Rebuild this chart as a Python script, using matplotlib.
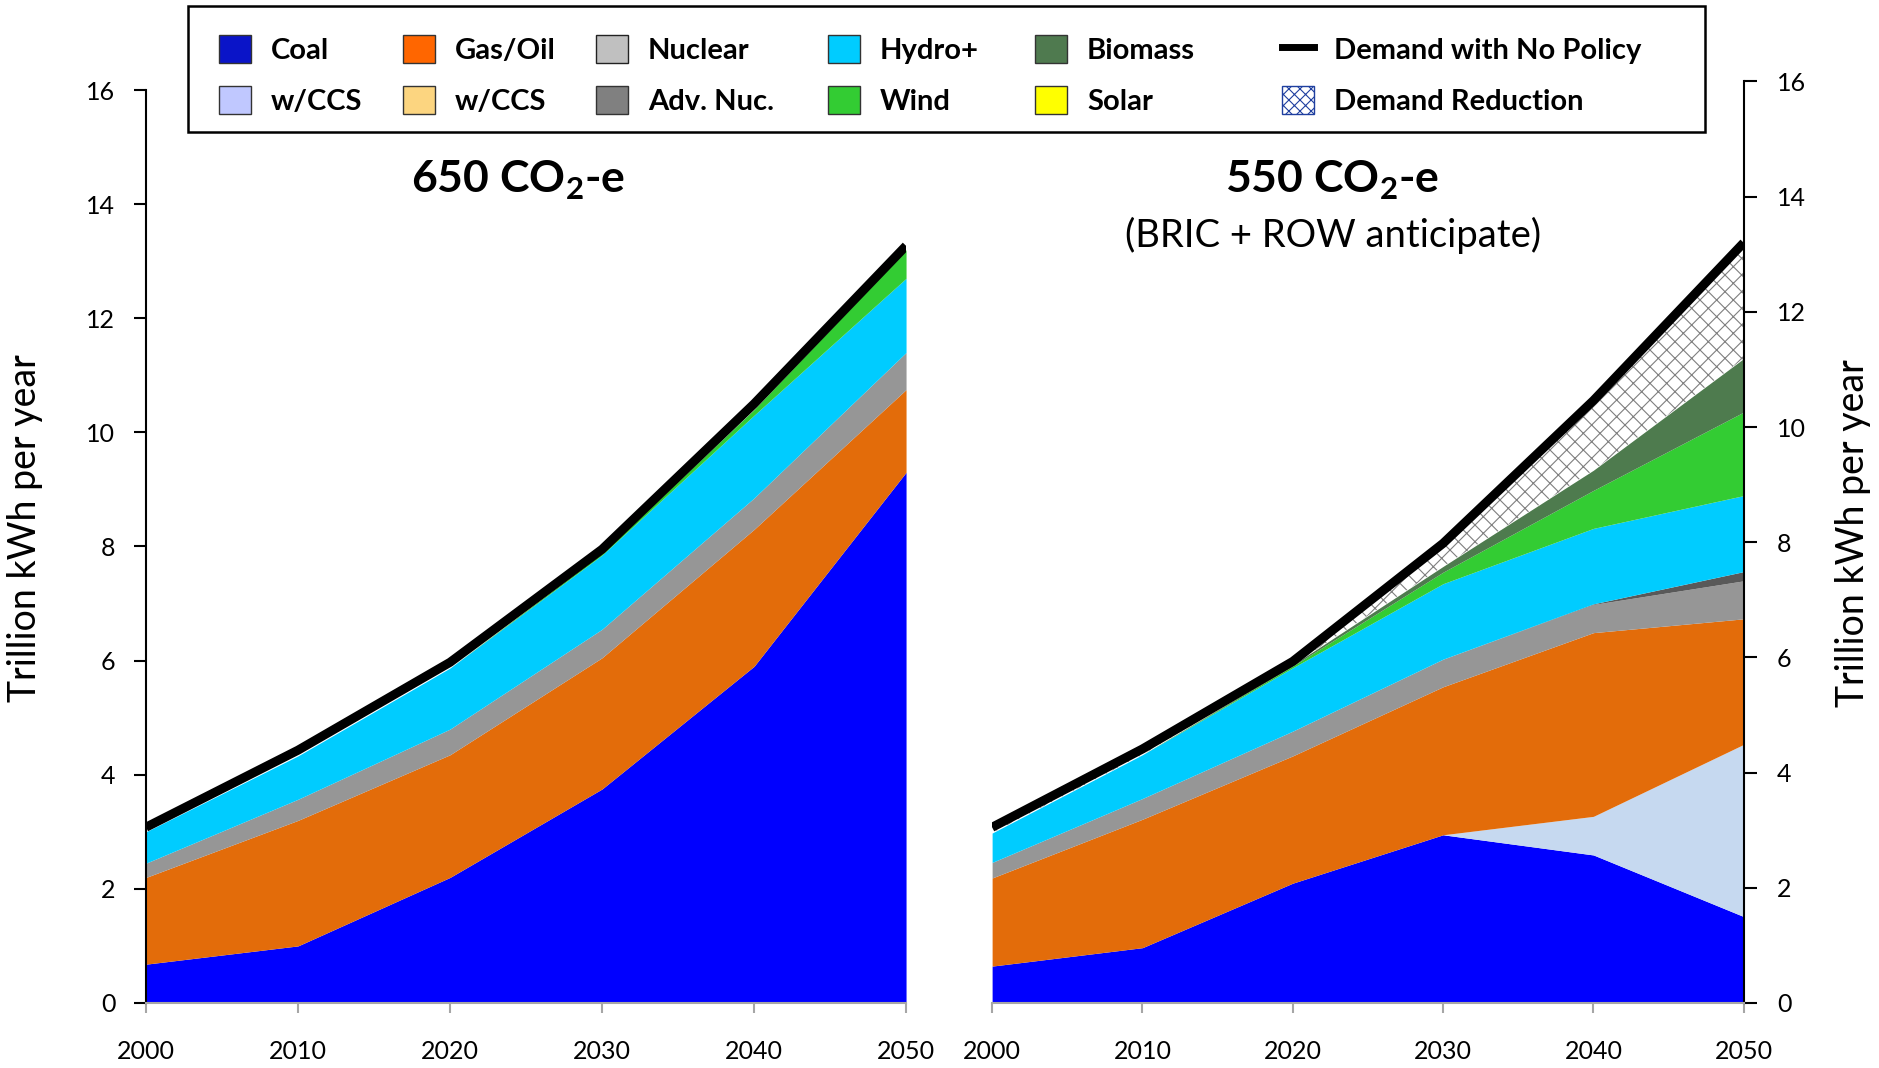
import numpy as np
import matplotlib
matplotlib.use("Agg")
import matplotlib.pyplot as plt
from matplotlib.patches import Patch, Rectangle
from matplotlib.lines import Line2D

plt.rcParams['font.family'] = ['Lato', 'DejaVu Sans']
plt.rcParams['mathtext.fontset'] = 'custom'
plt.rcParams['mathtext.rm'] = 'Lato'
plt.rcParams['mathtext.bf'] = 'Lato:bold'
plt.rcParams['hatch.linewidth'] = 0.8

years = [2000, 2010, 2020, 2030, 2040, 2050]

# 650 CO2-e scenario (trillion kWh per year)
coal_650 = [0.68, 1.0, 2.2, 3.75, 5.9, 9.3]
gas_650 = [1.52, 2.2, 2.15, 2.3, 2.4, 1.45]
nuclear_650 = [0.25, 0.37, 0.45, 0.5, 0.55, 0.65]
hydro_650 = [0.55, 0.76, 1.07, 1.3, 1.45, 1.3]
wind_650 = [0.0, 0.0, 0.0, 0.03, 0.1, 0.5]
demand_650 = [3.08, 4.43, 5.97, 7.95, 10.5, 13.27]

# 550 CO2-e scenario (BRIC + ROW anticipate)
coal_550 = [0.64, 0.96, 2.08, 2.92, 2.57, 1.5]
coal_ccs_550 = [0.0, 0.0, 0.0, 0.0, 0.67, 2.99]
gas_550 = [1.53, 2.23, 2.21, 2.57, 3.19, 2.18]
nuclear_550 = [0.27, 0.36, 0.43, 0.48, 0.49, 0.66]
adv_nuc_550 = [0.0, 0.0, 0.0, 0.0, 0.01, 0.16]
hydro_550 = [0.51, 0.76, 1.1, 1.31, 1.31, 1.32]
wind_550 = [0.0, 0.0, 0.03, 0.2, 0.66, 1.45]
biomass_550 = [0.0, 0.0, 0.02, 0.1, 0.35, 0.93]
demand_550 = [3.05, 4.41, 5.93, 7.98, 10.46, 13.2]

c_coal = '#0000ff'
c_coal_ccs = '#c6d9f0'
c_gas = '#e36c0a'
c_nuc = '#969696'
c_adv = '#595959'
c_hydro = '#00ccff'
c_wind = '#33cc33'
c_bio = '#4e7b4e'


def draw_stack(ax, layers, colors):
    bottom = np.zeros(len(years))
    for vals, col in zip(layers, colors):
        top = bottom + np.array(vals)
        ax.fill_between(years, bottom, top, color=col, lw=0)
        bottom = top
    return bottom


def style_axis(ax, side):
    ax.set_xlim(2000, 2050)
    ax.set_ylim(0, 16)
    ax.set_xticks(years)
    ax.set_yticks(range(0, 17, 2))
    ax.spines['top'].set_visible(False)
    other = 'right' if side == 'left' else 'left'
    ax.spines[other].set_visible(False)
    ax.spines[side].set_linewidth(1.5)
    ax.spines[side].set_color('black')
    ax.spines['bottom'].set_color('#a6a6a6')
    ax.spines['bottom'].set_linewidth(1.5)
    ax.tick_params(axis='x', direction='out', length=7, width=1.5, color='#a6a6a6',
                   labelsize=18, pad=20)
    ax.yaxis.set_ticks_position(side)
    ax.yaxis.set_label_position(side)
    ax.tick_params(axis='y', direction='out', length=9, width=1.5, color='black',
                   labelsize=18, pad=13 if side == 'left' else 15)
    ax.set_ylabel('Trillion kWh per year', fontsize=27)


fig = plt.figure(figsize=(18.79, 10.68), dpi=100)
ax1 = fig.add_axes([0.0777, 0.0609, 0.4045, 0.8548])
ax2 = fig.add_axes([0.528, 0.0609, 0.4, 0.8628])

# left panel
draw_stack(ax1, [coal_650, gas_650, nuclear_650, hydro_650, wind_650],
           [c_coal, c_gas, c_nuc, c_hydro, c_wind])
ax1.plot(years, demand_650, color='black', lw=6.5, solid_capstyle='butt')
style_axis(ax1, 'left')
ax1.yaxis.set_label_coords(-0.1355, 0.52)
ax1.text(0.489, 0.901, r'650 CO$_\mathbf{2}$-e', transform=ax1.transAxes,
         ha='center', va='center', fontsize=32, fontweight='bold')

# right panel
top = draw_stack(ax2, [coal_550, coal_ccs_550, gas_550, nuclear_550, adv_nuc_550,
                       hydro_550, wind_550, biomass_550],
                 [c_coal, c_coal_ccs, c_gas, c_nuc, c_adv, c_hydro, c_wind, c_bio])
ax2.fill_between(years, top, demand_550, facecolor='white', edgecolor='#7f7f7f',
                 hatch='xx', lw=0)
ax2.plot(years, demand_550, color='black', lw=6.5, solid_capstyle='butt')
style_axis(ax2, 'right')
ax2.yaxis.set_label_coords(1.122, 0.51)
ax2.text(0.453, 0.893, r'550 CO$_\mathbf{2}$-e', transform=ax2.transAxes,
         ha='center', va='center', fontsize=32, fontweight='bold')
ax2.text(0.453, 0.833, '(BRIC + ROW anticipate)', transform=ax2.transAxes,
         ha='center', va='center', fontsize=27.5)

# legend, built column by column
legend_cols = [
    (0.1166, [Patch(fc='#0a14c8', ec='#333333'), Patch(fc='#c0c8ff', ec='#333333')], ['Coal', 'w/CCS']),
    (0.2145, [Patch(fc='#ff6600', ec='#333333'), Patch(fc='#fcd580', ec='#333333')], ['Gas/Oil', 'w/CCS']),
    (0.3172, [Patch(fc='#c0c0c0', ec='#222222'), Patch(fc='#808080', ec='#333333')], ['Nuclear', 'Adv. Nuc.']),
    (0.4407, [Patch(fc='#00ccff', ec='#333333'), Patch(fc='#33cc33', ec='#333333')], ['Hydro+', 'Wind']),
    (0.5508, [Patch(fc='#4f7a4f', ec='#333333'), Patch(fc='#ffff00', ec='#333333')], ['Biomass', 'Solar']),
    (0.6823, [Line2D([], [], color='black', lw=5), Patch(fc='white', ec='#1f3f9f', hatch='xxx')],
     ['Demand with No Policy', 'Demand Reduction']),
]
for x, handles, labels in legend_cols:
    fig.legend(handles, labels, loc='upper left', bbox_to_anchor=(x, 0.967),
               frameon=False, prop={'size': 21, 'weight': 'bold'},
               handlelength=1.1, handleheight=1.1, handletextpad=0.68,
               labelspacing=0.75, borderpad=0, borderaxespad=0)
fig.add_artist(Rectangle((0.1, 0.8764), 0.8073, 0.118, transform=fig.transFigure,
                         fill=False, ec='black', lw=1.8))

fig.savefig('out.png', dpi=100)
